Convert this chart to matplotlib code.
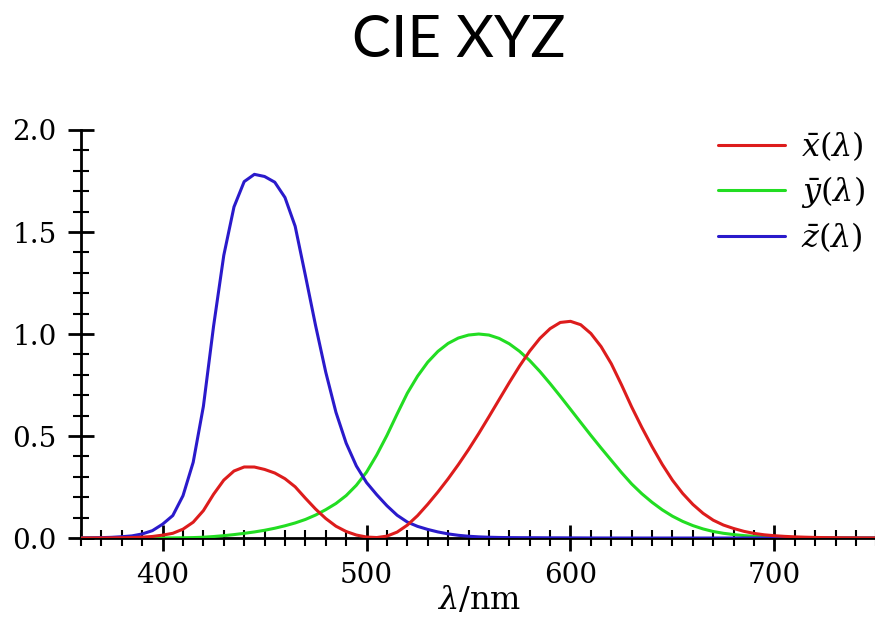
import matplotlib.pyplot as plt
from matplotlib.ticker import MultipleLocator, FormatStrFormatter

# CIE 1931 2-degree colour matching functions, 5 nm steps
wavelength = list(range(360, 785, 5))

x_bar = [0.000130, 0.000232, 0.000415, 0.000742, 0.001368, 0.002236, 0.004243, 0.007650,
         0.014310, 0.023190, 0.043510, 0.077630, 0.134380, 0.214770, 0.283900, 0.328500,
         0.348280, 0.348060, 0.336200, 0.318700, 0.290800, 0.251100, 0.195360, 0.142100,
         0.095640, 0.057950, 0.032010, 0.014700, 0.004900, 0.002400, 0.009300, 0.029100,
         0.063270, 0.109600, 0.165500, 0.225750, 0.290400, 0.359700, 0.433450, 0.512050,
         0.594500, 0.678400, 0.762100, 0.842500, 0.916300, 0.978600, 1.026300, 1.056700,
         1.062200, 1.045600, 1.002600, 0.938400, 0.854450, 0.751400, 0.642400, 0.541900,
         0.447900, 0.360800, 0.283500, 0.218700, 0.164900, 0.121200, 0.087400, 0.063600,
         0.046770, 0.032900, 0.022700, 0.015840, 0.011359, 0.008111, 0.005790, 0.004109,
         0.002899, 0.002049, 0.001440, 0.001000, 0.000690, 0.000476, 0.000332, 0.000235,
         0.000166, 0.000117, 0.000083, 0.000059, 0.000042]

y_bar = [0.000004, 0.000007, 0.000012, 0.000022, 0.000039, 0.000064, 0.000120, 0.000217,
         0.000396, 0.000640, 0.001210, 0.002180, 0.004000, 0.007300, 0.011600, 0.016840,
         0.023000, 0.029800, 0.038000, 0.048000, 0.060000, 0.073900, 0.090980, 0.112600,
         0.139020, 0.169300, 0.208020, 0.258600, 0.323000, 0.407300, 0.503000, 0.608200,
         0.710000, 0.793200, 0.862000, 0.914850, 0.954000, 0.980300, 0.994950, 1.000000,
         0.995000, 0.978600, 0.952000, 0.915400, 0.870000, 0.816300, 0.757000, 0.694900,
         0.631000, 0.566800, 0.503000, 0.441200, 0.381000, 0.321000, 0.265000, 0.217000,
         0.175000, 0.138200, 0.107000, 0.081600, 0.061000, 0.044580, 0.032000, 0.023200,
         0.017000, 0.011920, 0.008210, 0.005723, 0.004102, 0.002929, 0.002091, 0.001484,
         0.001047, 0.000740, 0.000520, 0.000361, 0.000249, 0.000172, 0.000120, 0.000085,
         0.000060, 0.000042, 0.000030, 0.000021, 0.000015]

z_bar = [0.000606, 0.001086, 0.001946, 0.003486, 0.006450, 0.010550, 0.020050, 0.036210,
         0.067850, 0.110200, 0.207400, 0.371300, 0.645600, 1.039050, 1.385600, 1.622960,
         1.747060, 1.782600, 1.772110, 1.744100, 1.669200, 1.528100, 1.287640, 1.041900,
         0.812950, 0.616200, 0.465180, 0.353300, 0.272000, 0.212300, 0.158200, 0.111700,
         0.078250, 0.057250, 0.042160, 0.029840, 0.020300, 0.013400, 0.008750, 0.005750,
         0.003900, 0.002750, 0.002100, 0.001800, 0.001650, 0.001400, 0.001100, 0.001000,
         0.000800, 0.000600, 0.000340, 0.000240, 0.000190, 0.000100, 0.000050, 0.000030,
         0.000020, 0.000010] + [0.0] * 27

plt.rcParams['mathtext.fontset'] = 'dejavuserif'

fig = plt.figure(figsize=(8.75, 6.22), dpi=100)
ax = fig.add_axes([0.0926, 0.135, 0.909, 0.656])

line_kw = dict(lw=2.2, solid_joinstyle='round', solid_capstyle='round')
ax.plot(wavelength, y_bar, color='#22dd22', label=r'$\bar{y}(\lambda)$', zorder=3, **line_kw)
ax.plot(wavelength, z_bar, color='#2a1acb', label=r'$\bar{z}(\lambda)$', zorder=4, **line_kw)
ax.plot(wavelength, x_bar, color='#dd1c1c', label=r'$\bar{x}(\lambda)$', zorder=5, **line_kw)

ax.set_xlim(360, 750)
ax.set_ylim(0, 2.0)

for s in ['top', 'right']:
    ax.spines[s].set_visible(False)
for s in ['left', 'bottom']:
    ax.spines[s].set_linewidth(2)

ax.xaxis.set_major_locator(MultipleLocator(100))
ax.xaxis.set_minor_locator(MultipleLocator(10))
ax.yaxis.set_major_locator(MultipleLocator(0.5))
ax.yaxis.set_minor_locator(MultipleLocator(0.1))
ax.yaxis.set_major_formatter(FormatStrFormatter('%.1f'))

ax.tick_params(which='major', direction='inout', length=19, width=2, pad=8,
               labelsize=20, zorder=6)
ax.tick_params(which='minor', direction='inout', length=11, width=1.5)
for lab in ax.get_xticklabels() + ax.get_yticklabels():
    lab.set_family('DejaVu Serif')

ax.set_xlabel(r'$\lambda$/nm', fontsize=23, family='DejaVu Serif', labelpad=-3)

handles, labels = ax.get_legend_handles_labels()
order = [2, 0, 1]
ax.legend([handles[i] for i in order], [labels[i] for i in order],
          loc='upper right', bbox_to_anchor=(1.01, 1.048), frameon=False,
          fontsize=23, handlelength=2.1, handletextpad=0.5, labelspacing=0.32,
          borderaxespad=0.2)

fig.text(0.524, 0.908, 'CIE XYZ', ha='center', va='baseline', fontsize=42, family='Lato')

fig.savefig('out.png')
